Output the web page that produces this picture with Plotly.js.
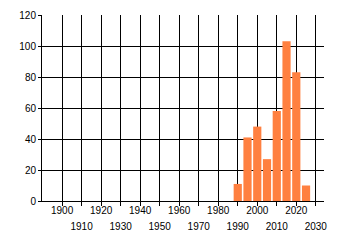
<!DOCTYPE html>
<html><head><meta charset="utf-8">
<script src="https://cdn.plot.ly/plotly-3.0.1.min.js"></script>
<style>html,body{margin:0;padding:0;background:#fff}#chart{width:340px;height:245px}</style>
</head><body><div id="chart"></div>
<script>
const years = [1990, 1995, 2000, 2005, 2010, 2015, 2020, 2025];
const counts = [11, 41, 48, 27, 58, 103, 83, 10];
const yTicks = [0, 20, 40, 60, 80, 100, 120];
const xTicksTop = [1900, 1920, 1940, 1960, 1980, 2000, 2020];
const xTicksBottom = [1910, 1930, 1950, 1970, 1990, 2010, 2030];
const xTicksAll = [1900,1910,1920,1930,1940,1950,1960,1970,1980,1990,2000,2010,2020,2030];

const font = {family: 'Liberation Sans, Arial, sans-serif', size: 10, color: '#000'};
const xr = [1889.7, 2034.2];

const data = [
  {type: 'bar', x: years, y: counts, width: 4.2, marker: {color: '#ff8040', line: {width: 0}}, hoverinfo: 'none'},
  {type: 'scatter', mode: 'markers', x: [xr[0]], y: [0], xaxis: 'x2', marker: {opacity: 0}, hoverinfo: 'none'}
];
const layout = {
  width: 340, height: 245,
  margin: {l: 42, r: 16, t: 15, b: 44},
  paper_bgcolor: '#fff', plot_bgcolor: '#fff',
  showlegend: false, font: font,
  xaxis: {
    range: xr, tickmode: 'array', tickvals: xTicksAll,
    ticktext: xTicksAll.map(v => xTicksTop.includes(v) ? String(v) : ''),
    showgrid: true, gridcolor: '#000', gridwidth: 1,
    showline: true, linecolor: '#000', linewidth: 1,
    ticks: 'outside', ticklen: 4, tickcolor: '#000', tickwidth: 1,
    zeroline: false, tickfont: font, fixedrange: true, ticklabelstandoff: -4
  },
  xaxis2: {
    range: xr, overlaying: 'x', side: 'bottom', anchor: 'y',
    tickmode: 'array', tickvals: xTicksBottom, ticktext: xTicksBottom.map(String),
    showgrid: false, showline: false, ticks: '', zeroline: false,
    ticklabelstandoff: 18, tickfont: font, fixedrange: true
  },
  yaxis: {
    range: [0, 120], tickmode: 'array', tickvals: yTicks,
    showgrid: true, gridcolor: '#000', gridwidth: 1,
    showline: true, linecolor: '#000', linewidth: 1,
    ticks: 'outside', ticklen: 3, tickcolor: '#000', tickwidth: 1,
    zeroline: false, tickfont: font, fixedrange: true
  }
};
Plotly.newPlot('chart', data, layout, {staticPlot: true, displayModeBar: false});
</script></body></html>
